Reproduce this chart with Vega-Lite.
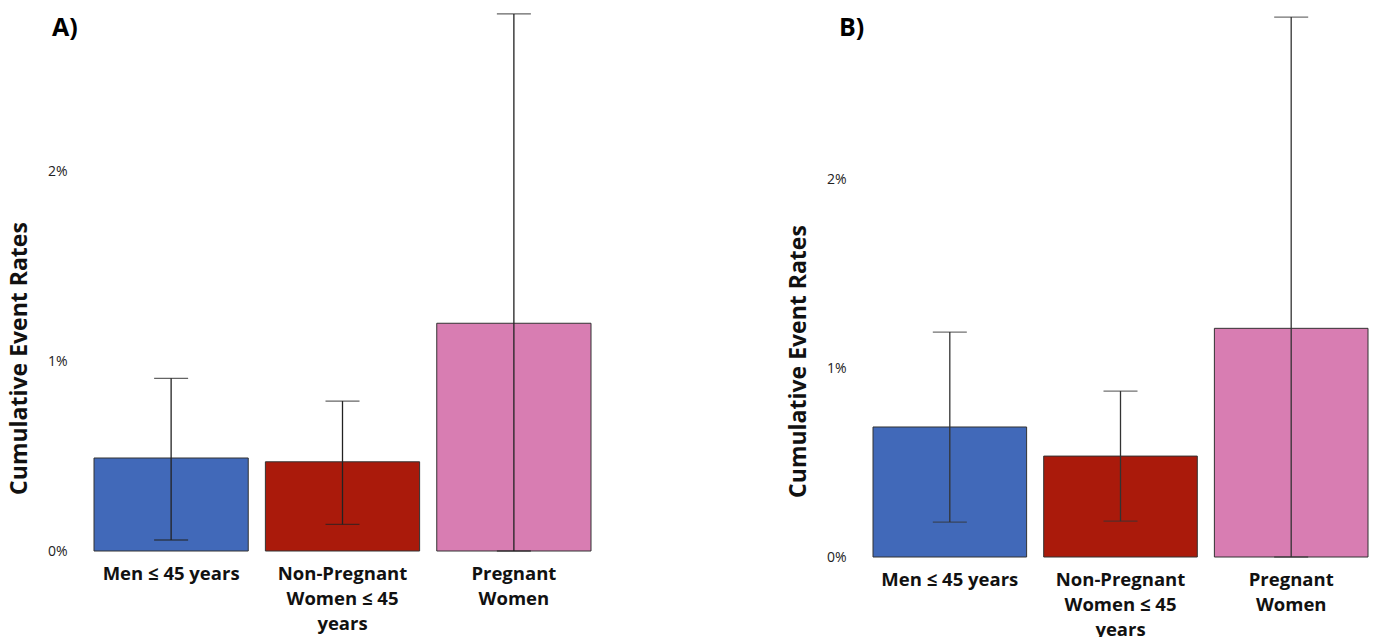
{
  "$schema": "https://vega.github.io/schema/vega-lite/v6.json",
  "padding": {"left": 8, "top": 12, "right": 5, "bottom": 5},
  "background": "white",
  "spacing": 195,
  "config": {"view": {"stroke": null}, "font": "Open Sans"},
  "datasets": {
    "a": [
      {"group": "Men ≤ 45 years", "rate": 0.49, "lo": 0.058, "hi": 0.91},
      {"group": "Non-Pregnant Women ≤ 45 years", "rate": 0.47, "lo": 0.14, "hi": 0.79},
      {"group": "Pregnant Women", "rate": 1.2, "lo": 0, "hi": 2.83}
    ],
    "b": [
      {"group": "Men ≤ 45 years", "rate": 0.688, "lo": 0.185, "hi": 1.19},
      {"group": "Non-Pregnant Women ≤ 45 years", "rate": 0.534, "lo": 0.19, "hi": 0.878},
      {"group": "Pregnant Women", "rate": 1.21, "lo": 0, "hi": 2.857}
    ]
  },
  "hconcat": [
    {
      "title": {"text": "A)", "anchor": "start", "frame": "group", "dx": -42, "dy": 30, "offset": -19, "baseline": "alphabetic", "fontSize": 25, "fontWeight": "bold", "color": "#000"},
      "width": 497,
      "height": 539,
      "data": {"name": "a"},
      "encoding": {
        "x": {"field": "group", "type": "nominal", "sort": null, "scale": {"paddingInner": 0.1, "paddingOuter": 0},
          "axis": {"title": null, "domain": false, "ticks": false, "labelAngle": 0, "labelFontSize": 18.5, "labelFontWeight": "bold", "labelColor": "#111", "labelLineHeight": 25, "labelPadding": 13, "labelBaseline": "top",
            "labelExpr": "datum.value == 'Pregnant Women' ? ['Pregnant', 'Women'] : datum.value == 'Men ≤ 45 years' ? 'Men ≤ 45 years' : ['Non-Pregnant', 'Women ≤ 45', 'years']"}}
      },
      "layer": [
        {
          "mark": {"type": "bar", "stroke": "#333", "strokeWidth": 1},
          "encoding": {
            "y": {"field": "rate", "type": "quantitative", "title": "Cumulative Event Rates", "scale": {"domain": [0, 2.84], "nice": false},
              "axis": {"values": [0, 1, 2], "labelExpr": "datum.value + '%'", "domain": false, "ticks": false, "grid": false, "labelPadding": 27, "labelFontSize": 14, "labelColor": "#222", "titleFontSize": 23, "titleFontWeight": "bold", "titleColor": "#111", "titlePadding": 16, "titleY": 346}},
            "color": {"field": "group", "type": "nominal", "legend": null, "scale": {"domain": ["Men ≤ 45 years", "Non-Pregnant Women ≤ 45 years", "Pregnant Women"], "range": ["#4169B9", "#AA1A0B", "#D87DB2"]}}
          }
        },
        {
          "mark": {"type": "rule", "color": "#222", "strokeWidth": 1.3},
          "encoding": {"y": {"field": "lo", "type": "quantitative", "title": "Cumulative Event Rates"}, "y2": {"field": "hi"}}
        },
        {
          "mark": {"type": "tick", "color": "#222", "thickness": 1.3, "size": 34},
          "encoding": {"y": {"field": "hi", "type": "quantitative", "title": "Cumulative Event Rates"}}
        },
        {
          "mark": {"type": "tick", "color": "#222", "thickness": 1.3, "size": 34},
          "encoding": {"y": {"field": "lo", "type": "quantitative", "title": "Cumulative Event Rates"}}
        }
      ]
    },
    {
      "title": {"text": "B)", "anchor": "start", "frame": "group", "dx": -34, "dy": 30, "offset": -19, "baseline": "alphabetic", "fontSize": 25, "fontWeight": "bold", "color": "#000"},
      "width": 495,
      "height": 545,
      "data": {"name": "b"},
      "encoding": {
        "x": {"field": "group", "type": "nominal", "sort": null, "scale": {"paddingInner": 0.1, "paddingOuter": 0},
          "axis": {"title": null, "domain": false, "ticks": false, "labelAngle": 0, "labelFontSize": 18.5, "labelFontWeight": "bold", "labelColor": "#111", "labelLineHeight": 25, "labelPadding": 13, "labelBaseline": "top",
            "labelExpr": "datum.value == 'Pregnant Women' ? ['Pregnant', 'Women'] : datum.value == 'Men ≤ 45 years' ? 'Men ≤ 45 years' : ['Non-Pregnant', 'Women ≤ 45', 'years']"}}
      },
      "layer": [
        {
          "mark": {"type": "bar", "stroke": "#333", "strokeWidth": 1},
          "encoding": {
            "y": {"field": "rate", "type": "quantitative", "title": "Cumulative Event Rates", "scale": {"domain": [0, 2.884], "nice": false},
              "axis": {"values": [0, 1, 2], "labelExpr": "datum.value + '%'", "domain": false, "ticks": false, "grid": false, "labelPadding": 27, "labelFontSize": 14, "labelColor": "#222", "titleFontSize": 23, "titleFontWeight": "bold", "titleColor": "#111", "titlePadding": 16, "titleY": 349}},
            "color": {"field": "group", "type": "nominal", "legend": null, "scale": {"domain": ["Men ≤ 45 years", "Non-Pregnant Women ≤ 45 years", "Pregnant Women"], "range": ["#4169B9", "#AA1A0B", "#D87DB2"]}}
          }
        },
        {
          "mark": {"type": "rule", "color": "#333", "strokeWidth": 1.3},
          "encoding": {"y": {"field": "lo", "type": "quantitative", "title": "Cumulative Event Rates"}, "y2": {"field": "hi"}}
        },
        {
          "mark": {"type": "tick", "color": "#333", "thickness": 1.3, "size": 34},
          "encoding": {"y": {"field": "hi", "type": "quantitative", "title": "Cumulative Event Rates"}}
        },
        {
          "mark": {"type": "tick", "color": "#333", "thickness": 1.3, "size": 34},
          "encoding": {"y": {"field": "lo", "type": "quantitative", "title": "Cumulative Event Rates"}}
        }
      ]
    }
  ],
  "resolve": {"scale": {"color": "independent"}}
}
